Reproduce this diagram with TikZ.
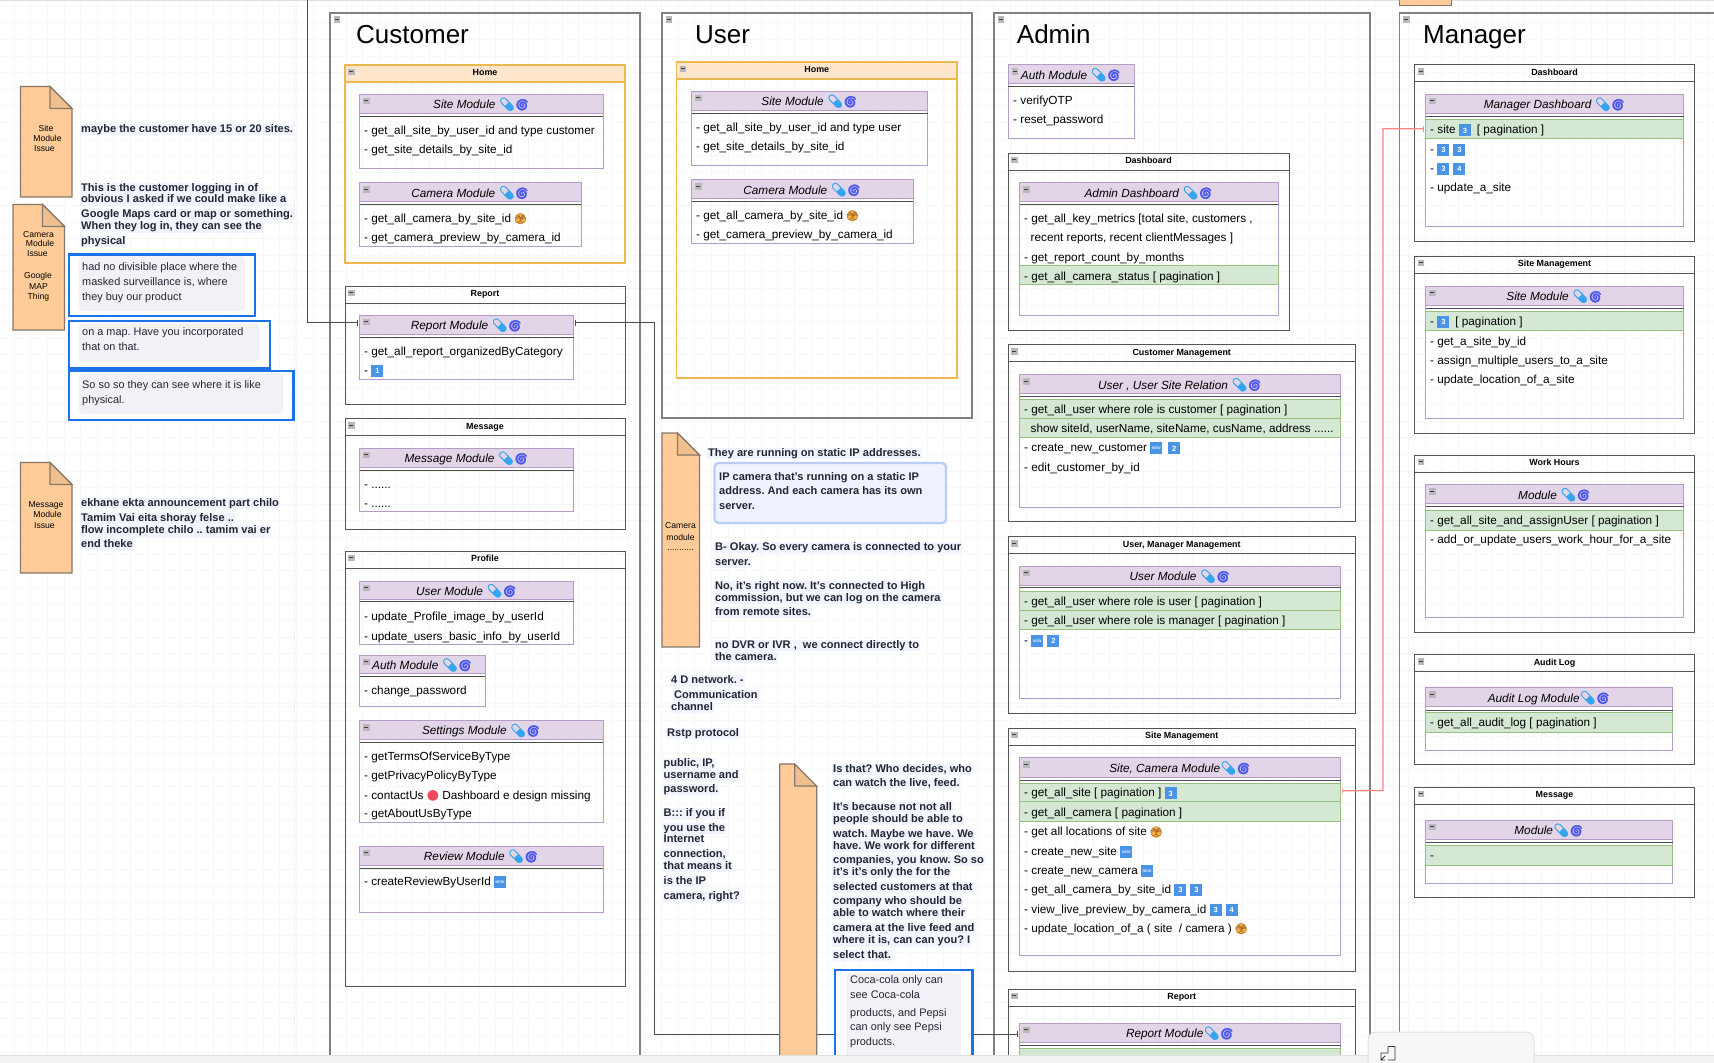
\documentclass[tikz,border=0pt]{standalone}
\usepackage{fontspec}
\usepackage{xcolor}
\usetikzlibrary{arrows.meta}
\setmainfont{Liberation Sans}
\newfontfamily\emofont[FakeBold=2]{Noto Emoji}
\newfontfamily\emoplain{Noto Emoji}
\newfontfamily\dejafont{DejaVu Sans}
\AtBeginDocument{\frenchspacing}
\catcode`\_=12
\definecolor{lanec}{HTML}{808080}
\definecolor{panelc}{HTML}{555555}
\definecolor{homec}{HTML}{EDB94F}
\definecolor{homef}{HTML}{FFE6CC}
\definecolor{modc}{HTML}{B49CC4}
\definecolor{modf}{HTML}{E1D5E7}
\definecolor{rowf}{HTML}{D5E8D4}
\definecolor{rowc}{HTML}{96BF80}
\definecolor{notef}{HTML}{FFCC99}
\definecolor{notec}{HTML}{85776A}
\definecolor{foldf}{HTML}{EFC08D}
\definecolor{hlc}{HTML}{EFF4FF}
\definecolor{darkt}{HTML}{262630}
\definecolor{blueb}{HTML}{1A73E8}
\definecolor{softb}{HTML}{B9CEF7}
\definecolor{softf}{HTML}{EEF3FF}
\definecolor{graybub}{HTML}{F1F1F7}
\definecolor{gridc}{HTML}{F7F7F7}
\definecolor{pillc}{HTML}{35A4EE}
\definecolor{cyc}{HTML}{4A55EE}
\definecolor{keyc}{HTML}{4A94E8}
\definecolor{facec}{HTML}{F5AE45}
\definecolor{faced}{HTML}{7A4A20}
\definecolor{redc}{HTML}{FF8484}
\definecolor{dotc}{HTML}{EC4A5E}
\definecolor{stripc}{HTML}{F1F2F4}
\newcounter{tn}
\tikzset{
  x=1pt,y=-1pt,
  sharp/.style={anchor=north west,inner sep=0pt,outer sep=0pt},
  lanebox/.style={sharp,draw=lanec,line width=1.3pt},
  panelbox/.style={sharp,draw=panelc,line width=1pt},
  homebox/.style={sharp,draw=homec,line width=1.1pt},
  modbox/.style={sharp,draw=modc,line width=1pt},
  greenbox/.style={sharp,draw=rowc,fill=rowf,line width=1pt},
  rowtext/.style={anchor=west,inner sep=0pt,yshift=-1pt,text height=9pt,text depth=3pt,font=\fontsize{11.75}{14}\selectfont},
  paneltitle/.style={inner sep=0pt,text height=7pt,text depth=2pt,font=\fontsize{8.9}{10}\selectfont\bfseries},
  modtitle/.style={inner sep=0pt,yshift=-2.2pt,text height=9pt,text depth=3pt,font=\fontsize{11.8}{14}\selectfont\itshape},
  lanetitle/.style={anchor=west,inner sep=0pt,text height=19pt,text depth=1pt,font=\fontsize{26}{30}\selectfont},
  boldtext/.style={anchor=west,inner xsep=1pt,inner ysep=.5pt,yshift=-1.5pt,fill=hlc,text=darkt,text height=8pt,text depth=2.5pt,font=\fontsize{11.05}{12}\selectfont\bfseries},
  plainbold/.style={anchor=west,inner xsep=1pt,inner ysep=.5pt,yshift=-1.5pt,text=darkt,text height=8pt,text depth=2.5pt,font=\fontsize{11.05}{12}\selectfont\bfseries},
  bubbletext/.style={anchor=west,inner sep=0pt,yshift=-1pt,text=darkt,text height=8pt,text depth=2.5pt,font=\fontsize{10.9}{12}\selectfont},
  notetext/.style={inner sep=0pt,text=black,text height=6.5pt,text depth=2pt,font=\fontsize{8.6}{10}\selectfont},
  thickblue/.style={sharp,draw=blueb,line width=2.6pt,fill=white},
  softbox/.style={sharp,draw=softb,line width=2.4pt,fill=softf,rounded corners=4pt},
  bubble/.style={sharp,fill=graybub,rounded corners=4pt},
  conn/.style={draw=black!70,line width=.9pt,{Bar[width=6pt,line width=.7pt,sep=1.5pt]}-{Bar[width=6pt,line width=.7pt,sep=1.5pt]}},
  connfree/.style={draw=black!70,line width=.9pt,-{Bar[width=6pt,line width=.7pt,sep=1.5pt]}},
  connred/.style={draw=redc,line width=1.3pt,{Bar[width=6pt,line width=.7pt,sep=1.5pt]}-{Bar[width=6pt,line width=.7pt,sep=1.5pt]}},
}
% generic box
\newcommand{\bx}[6][]{\pgfmathsetmacro\bxw{#5-#3}\pgfmathsetmacro\bxh{#6-#4}%
  \node[#1,minimum width=\bxw pt,minimum height=\bxh pt] (#2) at (#3,#4) {};}
% collapse icon
\newcommand{\cicon}[2]{\fill[black!28] (#1,#2) rectangle ++(6.5,6.5);\draw[black!75,line width=.8pt] (#1+1.3,#2+3.2) -- ++(3.9,0);}
% lane
\newcommand{\lane}[7]{\bx[lanebox]{#1}{#2}{#3}{#4}{#5}\cicon{#2+3.5}{#3+3}%
  \node[lanetitle] (#1-t) at (#6,34) {#7};}
% panel
\newcommand{\panel}[7][panelbox]{\bx[#1]{#2}{#3}{#4}{#5}{#6}\cicon{#3+3}{#4+3.5}%
  \draw[panelc,line width=.9pt] (#3,#4+17) -- (#5,#4+17);%
  \node[paneltitle] (#2-t) at ({(#3+#5)/2},#4+8.2) {#7};}
\newcommand{\homepanel}[6]{\bx[homebox,fill=homef]{#1-h}{#2}{#3}{#4}{#3+17}%
  \bx[homebox]{#1}{#2}{#3}{#4}{#5}\cicon{#2+3}{#3+3.5}%
  \node[paneltitle] (#1-t) at ({(#2+#4)/2},#3+8.2) {#6};}
% module: name x1 y1 x2 y2 headerEnd lineY title
\newcommand{\module}[8]{\bx[modbox]{#1}{#2}{#3}{#4}{#5}%
  \bx[modbox,fill=modf]{#1-h}{#2}{#3}{#4}{#6}\cicon{#2+3.5}{#3+3.5}%
  \draw[black!70,line width=1pt] (#2,#7) -- (#4,#7);%
  \node[modtitle] (#1-t) at ({(#2+#4)/2},{(#3+#6)/2}) {#8};}
\newcommand{\greenrow}[5]{\bx[greenbox]{#1}{#2}{#3}{#4}{#5}}
% auto-named texts
\newcommand{\rw}[3]{\stepcounter{tn}\node[rowtext] (r\arabic{tn}) at (#1,#2) {#3};}
\newcommand{\bt}[3]{\stepcounter{tn}\node[boldtext] (b\arabic{tn}) at (#1,#2) {#3};}
\newcommand{\nt}[3]{\stepcounter{tn}\node[notetext] (n\arabic{tn}) at (#1,#2) {#3};}
\newcommand{\bb}[3]{\stepcounter{tn}\node[bubbletext] (u\arabic{tn}) at (#1,#2) {#3};}
% note shape
\newcommand{\docnote}[6]{\filldraw[fill=notef,draw=notec,line width=1.1pt] (#2,#3) -- (#4-#6,#3) -- (#4,#3+#6) -- (#4,#5) -- (#2,#5) -- cycle;%
  \filldraw[fill=foldf,draw=notec,line width=1.1pt] (#4-#6,#3) -- (#4,#3+#6) -- (#4-#6,#3+#6) -- cycle;%
  \coordinate (#1) at (#2,#3);}
% glyphs
\newcommand{\ic}{{\upshape\emofont\fontsize{13}{13}\selectfont\textcolor{pillc}{💊}\hspace{-.5pt}\fontsize{11.5}{12}\selectfont\textcolor{cyc}{🌀}}}
\newcommand{\face}{\makebox[12pt][c]{\makebox[0pt][c]{\tikz[baseline=-3.2pt]\fill[facec] (0,0) circle[radius=5.6pt];}\makebox[0pt][c]{\fontsize{10}{10}\emoplain\textcolor{faced}{🫣}}}}
\newcommand{\kc}[1]{\raisebox{-1.8pt}{\setlength{\fboxsep}{0pt}\colorbox{keyc}{\makebox[12pt]{\rule[-1pt]{0pt}{12pt}\raisebox{2.3pt}{\textcolor{white}{\fontsize{7.5}{8}\selectfont\bfseries #1}}}}}}
\newcommand{\nw}{\raisebox{-1.8pt}{\setlength{\fboxsep}{0pt}\colorbox{keyc}{\makebox[12pt]{\rule[-1pt]{0pt}{12pt}\raisebox{3.5pt}{\textcolor{white!80!keyc}{\fontsize{3.8}{4}\selectfont\bfseries NEW}}}}}}
\newcommand{\rdot}{{\fontsize{14}{14}\dejafont\textcolor{dotc}{●}}}
\begin{document}
\begin{tikzpicture}
\useasboundingbox (0,0) rectangle (1714,1063);
\clip (0,0) rectangle (1714,1063);
\fill[white] (0,0) rectangle (1714,1063);
% grid
\foreach \gx in {14,30.6,...,1714} {\draw[gridc,line width=.5pt] (\gx,0) -- (\gx,1063);}
\foreach \gy in {6,22.6,...,1063} {\draw[gridc,line width=.5pt] (0,\gy) -- (1714,\gy);}
\draw[black!7,line width=.5pt,densely dotted] (294,0) -- (294,1063);
\draw[black!5,line width=.5pt,densely dotted] (0,706) -- (1714,706);
\fill[black!13] (0,0) rectangle (1714,1);
\bx[sharp,fill=notef,draw=notec,line width=1pt]{topnote}{1399.5}{-5}{1451.5}{5}

% ---------- lanes
\lane{customer}{330}{13}{640}{1080}{356}{Customer}
\lane{user}{662}{13}{972}{418}{695}{User}
\lane{admin}{994}{13}{1370}{1080}{1016.7}{Admin}
\lane{manager}{1399.5}{13}{1740}{1080}{1423}{Manager}

% ---------- Customer
\homepanel{cHome}{345}{65}{625}{263}{Home}
\module{cSite}{359.5}{94}{603}{168}{113}{116}{Site Module \ic}
\rw{364}{130}{- get_all_site_by_user_id and type customer}
\rw{364}{149}{- get_site_details_by_site_id}
\module{cCam}{359.5}{182.5}{581}{246}{201.5}{204}{Camera Module \ic}
\rw{364}{218}{- get_all_camera_by_site_id \face}
\rw{364}{237}{- get_camera_preview_by_camera_id}

\panel{cReport}{345}{286}{625}{404}{Report}
\module{cRep}{359.5}{315}{573.5}{379}{334}{337}{Report Module \ic}
\rw{364}{351}{- get_all_report_organizedByCategory}
\rw{364}{370}{- \kc{1}}

\panel{cMsg}{345}{418.5}{625}{529}{Message}
\module{cMsgM}{359.5}{448}{573.5}{511}{467}{470}{Message Module \ic}
\rw{364}{484}{- ......}
\rw{364}{503}{- ......}

\panel{cProf}{345}{551}{625}{986}{Profile}
\module{cUser}{359.5}{581}{573.5}{644.5}{599}{601.5}{User Module \ic}
\rw{364}{616}{- update_Profile_image_by_userId}
\rw{364}{636}{- update_users_basic_info_by_userId}
\module{cAuth}{359.5}{655}{485}{706}{673.5}{676}{Auth Module \ic}
\rw{364}{690}{- change_password}
\module{cSet}{359.5}{720.5}{603}{822.5}{739}{742}{Settings Module \ic}
\rw{364}{756.5}{- getTermsOfServiceByType}
\rw{364}{775.5}{- getPrivacyPolicyByType}
\rw{364}{795}{- contactUs \rdot{} Dashboard e design missing}
\rw{364}{813.5}{- getAboutUsByType}
\module{cRev}{359.5}{846}{603}{912}{865}{868}{Review Module \ic}
\rw{364}{881.5}{- createReviewByUserId \nw}

% ---------- User
\homepanel{uHome}{676.5}{62}{957}{378}{Home}
\module{uSite}{691.5}{91}{927.5}{165}{110}{113}{Site Module \ic}
\rw{696}{127}{- get_all_site_by_user_id and type user}
\rw{696}{146}{- get_site_details_by_site_id}
\module{uCam}{691.5}{179.5}{913}{243}{198.5}{201}{Camera Module \ic}
\rw{696}{215}{- get_all_camera_by_site_id \face}
\rw{696}{234}{- get_camera_preview_by_camera_id}

% ---------- Admin
\module{aAuth}{1008}{64.5}{1134}{138}{83.5}{86}{Auth Module \ic}
\rw{1013}{100}{- verifyOTP}
\rw{1013}{119}{- reset_password}

\panel{aDash}{1008}{153}{1289}{330}{Dashboard}
\module{aDashM}{1019.5}{182.5}{1278}{315}{201.5}{204.5}{Admin Dashboard \ic}
\rw{1024}{218}{- get_all_key_metrics [total site, customers ,}
\rw{1030.5}{237}{recent reports, recent clientMessages ]}
\rw{1024}{257}{- get_report_count_by_months}
\greenrow{aRow1}{1019.5}{265.5}{1278}{284.5}
\rw{1024}{276}{- get_all_camera_status [ pagination ]}

\panel{aCust}{1008}{344.5}{1355.5}{521.5}{Customer Management}
\module{aCustM}{1019.5}{374.5}{1340.5}{507}{393.5}{396}{User , User Site Relation \ic}
\greenrow{aRow2}{1019.5}{399.5}{1340.5}{418.5}
\greenrow{aRow3}{1019.5}{418.5}{1340.5}{437.5}
\rw{1024}{409.5}{- get_all_user where role is customer [ pagination ]}
\rw{1030.5}{428.5}{show siteId, userName, siteName, cusName, address ......}
\rw{1024}{447.5}{- create_new_customer \nw\hspace{6pt}\kc{2}}
\rw{1024}{467}{- edit_customer_by_id}

\panel{aUM}{1008}{536.5}{1355.5}{713.5}{User, Manager Management}
\module{aUMM}{1019.5}{566}{1340.5}{698.5}{585}{587.5}{User Module \ic}
\greenrow{aRow4}{1019.5}{591}{1340.5}{610}
\greenrow{aRow5}{1019.5}{610}{1340.5}{629.5}
\rw{1024}{601.5}{- get_all_user where role is user [ pagination ]}
\rw{1024}{620.5}{- get_all_user where role is manager [ pagination ]}
\rw{1024}{640}{- \nw\hspace{4pt}\kc{2}}

\panel{aSite}{1008}{728}{1355.5}{971.5}{Site Management}
\module{aSiteM}{1019.5}{757.5}{1340.5}{955.5}{777}{780}{Site, Camera Module\ic}
\greenrow{aRow6}{1019.5}{783}{1340.5}{801.5}
\greenrow{aRow7}{1019.5}{801.5}{1340.5}{821}
\rw{1024}{792.5}{- get_all_site [ pagination ] \kc{3}}
\rw{1024}{812.5}{- get_all_camera [ pagination ]}
\rw{1024}{831.5}{- get all locations of site \face}
\rw{1024}{851}{- create_new_site \nw}
\rw{1024}{870}{- create_new_camera \nw}
\rw{1024}{889}{- get_all_camera_by_site_id \kc{3}\hspace{4pt}\kc{3}}
\rw{1024}{909}{- view_live_preview_by_camera_id \kc{3}\hspace{4pt}\kc{4}}
\rw{1024}{928}{- update_location_of_a ( site~ / camera ) \face}

\panel{aRep}{1008}{989}{1355.5}{1080}{Report}
\module{aRepM}{1019.5}{1023}{1340.5}{1080}{1042}{1045}{Report Module\ic}
\greenrow{aRow8}{1019.5}{1048}{1340.5}{1080}

% ---------- Manager
\panel{mDash}{1414.5}{64.5}{1694.5}{241.5}{Dashboard}
\module{mDashM}{1425.5}{94}{1683.5}{226.5}{113}{116}{Manager Dashboard \ic}
\greenrow{mRow1}{1425.5}{119}{1683.5}{138.5}
\rw{1430}{129.5}{- site \kc{3}\hspace{6pt}[ pagination ]}
\rw{1430}{149}{- \kc{3}\hspace{4pt}\kc{3}}
\rw{1430}{168}{- \kc{3}\hspace{4pt}\kc{4}}
\rw{1430}{187}{- update_a_site}

\panel{mSite}{1414.5}{256}{1694.5}{433}{Site Management}
\module{mSiteM}{1425.5}{286}{1683.5}{418}{305}{308}{Site Module \ic}
\greenrow{mRow2}{1425.5}{311}{1683.5}{330}
\rw{1430}{321}{- \kc{3}\hspace{6pt}[ pagination ]}
\rw{1430}{341}{- get_a_site_by_id}
\rw{1430}{360}{- assign_multiple_users_to_a_site}
\rw{1430}{379}{- update_location_of_a_site}

\panel{mWork}{1414.5}{455}{1694.5}{632}{Work Hours}
\module{mWorkM}{1425.5}{484.5}{1683.5}{617}{503.5}{506.7}{Module \ic}
\greenrow{mRow3}{1425.5}{510}{1683.5}{530}
\rw{1430}{520}{- get_all_site_and_assignUser [ pagination ]}
\rw{1430}{539}{- add_or_update_users_work_hour_for_a_site}

\panel{mAudit}{1414.5}{654.5}{1694.5}{764.5}{Audit Log}
\module{mAuditM}{1425.5}{687.5}{1672.5}{750}{706.5}{710}{Audit Log Module\ic}
\greenrow{mRow4}{1425.5}{712.5}{1672.5}{732}
\rw{1430}{722.5}{- get_all_audit_log [ pagination ]}

\panel{mMsg}{1414.5}{787}{1694.5}{897.5}{Message}
\module{mMsgM}{1425.5}{820}{1672.5}{883}{839}{842.5}{Module\ic}
\greenrow{mRow5}{1425.5}{845}{1672.5}{865}
\rw{1430}{855}{-}

% ---------- connectors
\coordinate (topfree) at (307,-2);
\draw[connfree] (topfree) |- ([yshift=-7.5pt]cRep.north west);
\draw[conn] ([yshift=-7.5pt]cRep.north east) -| (654,1034) -- ([yshift=-11pt]aRepM.north west);
\draw[connred] (mRow1.west) -| (1383,790.5) -- ([yshift=1.5pt]aRow6.east);

% ---------- left notes
\docnote{noteSite}{20.5}{86.5}{72}{197}{22}
\nt{46}{129}{Site}\nt{47.5}{139.5}{Module}\nt{44.5}{149}{Issue}
\bt{80}{128}{maybe the customer have 15 or 20 sites.}
\bt{80}{187}{This is the customer logging in of}
\bt{80}{198.5}{obvious I asked if we could make like a}
\bt{80}{213}{Google Maps card or map or something.}
\bt{80}{225.5}{When they log in, they can see the}
\bt{80}{240}{physical}

\docnote{noteCam}{13}{204.5}{64.5}{330}{22}
\nt{38.5}{235}{Camera}\nt{40}{244.5}{Module}\nt{37.5}{254.5}{Issue}
\nt{38}{276}{Google}\nt{38.5}{287}{MAP}\nt{38.5}{297}{Thing}

\bx[thickblue]{blue1}{69}{254.5}{255}{316}
\bx[bubble]{bub1}{79}{256}{245}{311}
\bb{82}{266.5}{had no divisible place where the}
\bb{82}{281.5}{masked surveillance is, where}
\bb{82}{296.5}{they buy our product}
\bx[thickblue]{blue2}{69}{321}{270}{368.5}
\bx[bubble]{bub2}{79}{323}{259}{362}
\bb{82}{331.5}{on a map. Have you incorporated}
\bb{82}{346.5}{that on that.}
\bx[thickblue]{blue3}{69}{371}{293.5}{420}
\bx[bubble]{bub3}{79}{373}{283}{414}
\bb{82}{384.5}{So so so they can see where it is like}
\bb{82}{399.5}{physical.}

\docnote{noteMsg}{20.5}{462.5}{72}{573}{22}
\nt{46}{505.5}{Message}\nt{47.5}{515}{Module}\nt{44.5}{526.5}{Issue}
\bt{80}{502}{ekhane ekta announcement part chilo~}
\bt{80}{517}{Tamim Vai eita shoray felse ..}
\bt{80}{529.5}{flow incomplete chilo .. tamim vai er}
\bt{80}{543}{end theke}

% ---------- middle notes
\docnote{noteCamMod}{662}{433}{699.5}{647}{22}
\nt{680.5}{526.5}{Camera}\nt{680.5}{538.5}{module}\nt{680.5}{548}{...........}
\bt{707}{452}{They are running on static IP addresses.}
\bx[softbox]{softip}{714.5}{463}{946}{523}
\stepcounter{tn}\node[plainbold] (p\arabic{tn}) at (718,476) {IP camera that's running on a static IP};
\stepcounter{tn}\node[plainbold] (p\arabic{tn}) at (718,490) {address. And each camera has its own};
\stepcounter{tn}\node[plainbold] (p\arabic{tn}) at (718,505) {server.};
\bt{714}{546}{B- Okay. So every camera is connected to your}
\bt{714}{561}{server.}
\bt{714}{585}{No, it's right now. It's connected to High}
\bt{714}{597}{commission, but we can log on the camera}
\bt{714}{611}{from remote sites.}
\bt{714}{644}{no DVR or IVR ,~ we connect directly to}
\bt{714}{656}{the camera.}
\bt{670}{679}{4 D network. -}
\bt{673}{694}{Communication}
\bt{670}{706}{channel}
\bt{666}{732}{Rstp protocol}
\bt{662.5}{762}{public, IP,}
\bt{662.5}{774}{username and}
\bt{662.5}{788}{password.}
\bt{662.5}{812}{B::: if you if}
\bt{662.5}{827}{you use the}
\bt{662.5}{838.5}{Internet}
\bt{662.5}{853}{connection,}
\bt{662.5}{865}{that means it}
\bt{662.5}{880}{is the IP}
\bt{662.5}{895}{camera, right?}

\docnote{noteLive}{779.7}{764}{816.7}{1080}{22}
\bt{832}{768}{Is that? Who decides, who}
\bt{832}{782}{can watch the live, feed.}
\bt{832}{806}{It's because not not all}
\bt{832}{818}{people should be able to}
\bt{832}{833}{watch. Maybe we have. We}
\bt{832}{845}{have. We work for different}
\bt{832}{859}{companies, you know. So so}
\bt{832}{871}{it's it's only the for the}
\bt{832}{886}{selected customers at that}
\bt{832}{900}{company who should be}
\bt{832}{912}{able to watch where their}
\bt{832}{927}{camera at the live feed and}
\bt{832}{939.5}{where it is, can can you? I}
\bt{832}{954}{select that.}
\bx[thickblue]{blue4}{835}{970}{972.7}{1080}
\bx[bubble]{bub4}{846}{973}{961}{1080}
\bb{850}{980}{Coca-cola only can}
\bb{850}{995}{see Coca-cola}
\bb{850}{1013}{products, and Pepsi}
\bb{850}{1027}{can only see Pepsi}
\bb{850}{1042}{products.}

% ---------- window chrome
\fill[black!12] (0,1054.5) rectangle (1714,1055.5);
\fill[stripc] (0,1055.5) rectangle (1714,1063);
\bx[sharp,fill=white!97!black,draw=black!12,line width=1pt,rounded corners=8pt]{popup}{1368}{1032}{1534}{1080}
\draw[black!80,line width=.9pt] (1388,1046.5) -- (1395,1046.5) -- (1395,1060) -- (1388,1060) (1388,1046.5) -- (1388,1053) -- (1381,1053) -- (1381,1060) -- (1385,1060) (1381,1060) -- (1385,1056);
\end{tikzpicture}
\end{document}
